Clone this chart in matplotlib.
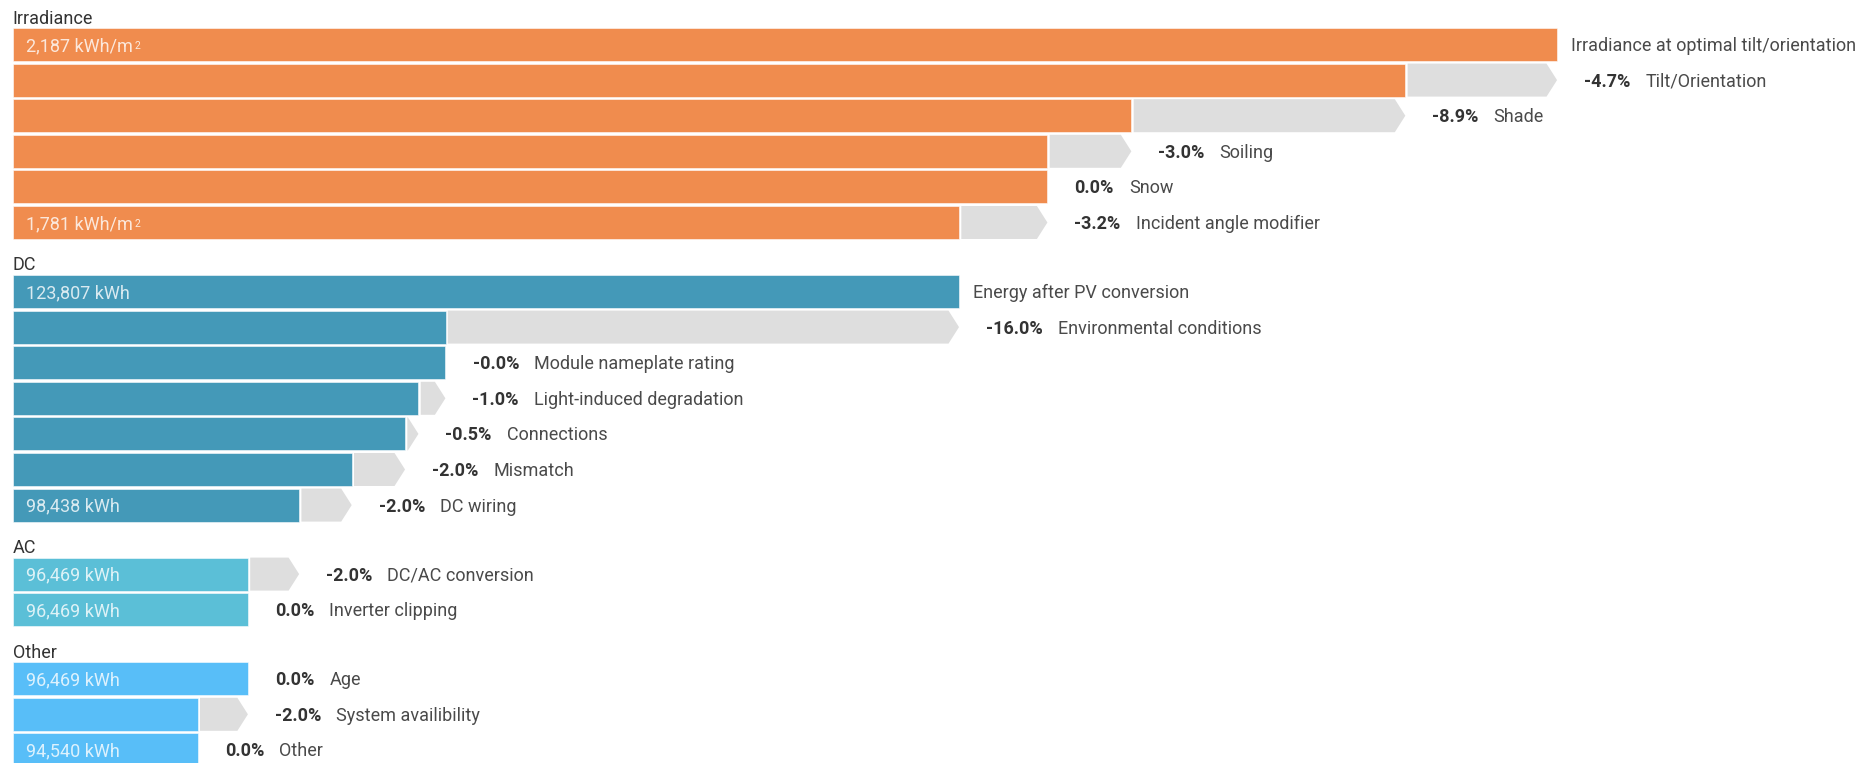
import matplotlib.pyplot as plt
from matplotlib.patches import Polygon

plt.rcParams['font.family'] = ['Roboto', 'DejaVu Sans']

# Irradiance chain, kWh/m2
irr_names = ["Irradiance at optimal tilt/orientation", "Tilt/Orientation", "Shade",
             "Soiling", "Snow", "Incident angle modifier"]
irr_values = [2187, 2084, 1898, 1841, 1841, 1781]
irr_pct = [None, "-4.7%", "-8.9%", "-3.0%", "0.0%", "-3.2%"]
irr_shown = ["2,187 kWh/m", "", "", "", "", "1,781 kWh/m"]

# energy chain, kWh
dc_names = ["Energy after PV conversion", "Environmental conditions", "Module nameplate rating",
            "Light-induced degradation", "Connections", "Mismatch", "DC wiring"]
dc_values = [123807, 104066, 104062, 103025, 102510, 100460, 98438]
dc_pct = [None, "-16.0%", "-0.0%", "-1.0%", "-0.5%", "-2.0%", "-2.0%"]
dc_shown = ["123,807 kWh", "", "", "", "", "", "98,438 kWh"]

ac_names = ["DC/AC conversion", "Inverter clipping"]
ac_values = [96469, 96469]
ac_pct = ["-2.0%", "0.0%"]
ac_shown = ["96,469 kWh", "96,469 kWh"]

other_names = ["Age", "System availibility", "Other"]
other_values = [96469, 94540, 94540]
other_pct = ["0.0%", "-2.0%", "0.0%"]
other_shown = ["96,469 kWh", "", "94,540 kWh"]

W, H = 1859, 763
fig = plt.figure(figsize=(W / 100, H / 100), dpi=100)

ax_irr = fig.add_axes([0, 0, 1, 1])
ax_kwh = fig.add_axes([0, 0, 1, 1])
ax_irr.set_xlim(1129.9, 2392.0)
ax_kwh.set_xlim(86939, 158406)
irr_base = 1138.5
kwh_base = 87427
for a in (ax_irr, ax_kwh):
    a.set_ylim(H, 0)
    a.axis('off')
ax_kwh.patch.set_visible(False)

BAR_H = 33
PITCH = 35.6
FS = 13
DARK = '#333333'
NAME = '#4a4a4a'


def draw_row(ax, top, value, prev, base, color, name, pct, shown, sup=False):
    lo, hi = ax.get_xlim()
    per_px = (hi - lo) / W
    yc = top + BAR_H / 2
    yb = yc + 6.5
    ax.barh(yc, value - base, left=base, height=BAR_H, color=color,
            edgecolor=(1, 1, 1, 0.55), linewidth=0.7)
    if prev is not None and (prev - value) / per_px > 3:
        x0 = value + 2.3 * per_px
        x1 = prev
        xm = max(x0, x1 - 10.5 * per_px)
        ax.add_patch(Polygon([(x0, top), (xm, top), (x1, yc), (xm, top + BAR_H), (x0, top + BAR_H)],
                             closed=True, fc='#dedede', ec='none'))
    if shown:
        t = ax.annotate(shown, (base, yb), xytext=(13.5, 0), textcoords='offset pixels',
                        fontsize=FS, color='white', alpha=0.8, va='baseline')
        if sup:
            ax.annotate("2", xy=(1, 0), xycoords=t, xytext=(2, 4), textcoords='offset pixels',
                        fontsize=7.5, color='white', alpha=0.8, va='bottom', fontweight='normal')
    if pct is None:
        ax.annotate(name, (value, yb), xytext=(13.5, 0), textcoords='offset pixels',
                    fontsize=FS, color=NAME, va='baseline')
    else:
        right = max(value, prev) if prev is not None else value
        p = ax.annotate(pct, (right, yb), xytext=(27, 0), textcoords='offset pixels',
                        fontsize=FS, color=DARK, fontweight='bold', va='baseline')
        ax.annotate(name, xy=(1, 0), xycoords=p, xytext=(15, 0), textcoords='offset pixels',
                    fontsize=FS, color=NAME, va='bottom')


sections = [
    ("Irradiance", ax_irr, irr_base, '#f08c4e', irr_names, irr_values, irr_pct, irr_shown, None),
    ("DC", ax_kwh, kwh_base, '#4499b8', dc_names, dc_values, dc_pct, dc_shown, None),
    ("AC", ax_kwh, kwh_base, '#5bbfd7', ac_names, ac_values, ac_pct, ac_shown, dc_values[-1]),
    ("Other", ax_kwh, kwh_base, '#58bef8', other_names, other_values, other_pct, other_shown, ac_values[-1]),
]

k = 0
for s, (title, ax, base, color, names, values, pcts, shown, prev) in enumerate(sections):
    first_top = 28 + PITCH * k + 33.4 * s
    ax.text(12.7 / W, first_top - 4.5, title, transform=ax.get_yaxis_transform(),
            fontsize=FS, color=DARK, va='baseline')
    for i in range(len(values)):
        top = 28 + PITCH * k + 33.4 * s
        draw_row(ax, top, values[i], prev, base, color, names[i], pcts[i], shown[i],
                 sup=(title == "Irradiance"))
        prev = values[i]
        k += 1

fig.savefig("out.png", dpi=100)
